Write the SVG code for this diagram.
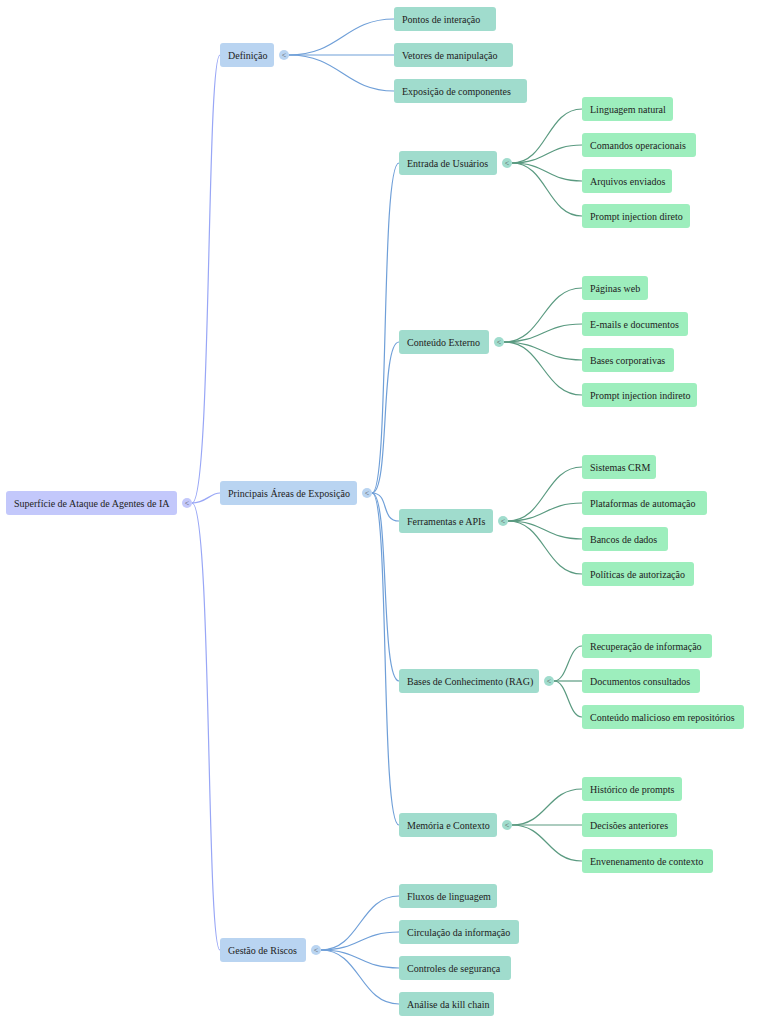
<svg xmlns="http://www.w3.org/2000/svg" width="765" height="1024" viewBox="0 0 765 1024" font-family="'Liberation Serif', 'DejaVu Serif', serif">
<style>
text{font-family:'Liberation Serif','DejaVu Serif',serif;font-size:10px;fill:#222;dominant-baseline:central}
.r{fill:#c3c8fb}.a{fill:#b9d4f1}.b{fill:#a0dccd}.c{fill:#9deebd}
.t text{font-size:8px;fill:#555;text-anchor:middle}
#links path{fill:none;stroke-width:1.2}
.lr{stroke:#98a6f6}.la{stroke:#6f9fd8}.lb{stroke:#5a9a80}
</style>
<rect width="765" height="1024" fill="#fff"/>
<g id="links">
<path class="lr" d="M192 503C212 503 206 55 220 55"/>
<path class="lr" d="M192 503C206 503 210 493 220 493"/>
<path class="lr" d="M192 503C212 503 206 950 220 950"/>
<path class="la" d="M289 55C340 55 345 19 394 19"/>
<path class="la" d="M289 55H394"/>
<path class="la" d="M289 55C340 55 345 91 394 91"/>
<path class="la" d="M372 493C390 493 380 163 399 163"/>
<path class="la" d="M372 493C390 493 380 342 399 342"/>
<path class="la" d="M372 493C390 493 380 521 399 521"/>
<path class="la" d="M372 493C390 493 380 681 399 681"/>
<path class="la" d="M372 493C390 493 380 825 399 825"/>
<path class="la" d="M321 950C360 950 360 896 399 896"/>
<path class="la" d="M321 950C360 950 360 932 399 932"/>
<path class="la" d="M321 950C360 950 360 968 399 968"/>
<path class="la" d="M321 950C360 950 360 1004 399 1004"/>
<path class="lb" d="M512 163C547 163 547 109 582 109"/>
<path class="lb" d="M512 163C547 163 547 145 582 145"/>
<path class="lb" d="M512 163C547 163 547 181 582 181"/>
<path class="lb" d="M512 163C547 163 547 216 582 216"/>
<path class="lb" d="M504 342C543 342 543 288 582 288"/>
<path class="lb" d="M504 342C543 342 543 324 582 324"/>
<path class="lb" d="M504 342C543 342 543 360 582 360"/>
<path class="lb" d="M504 342C543 342 543 395 582 395"/>
<path class="lb" d="M508 521C545 521 545 467 582 467"/>
<path class="lb" d="M508 521C545 521 545 503 582 503"/>
<path class="lb" d="M508 521C545 521 545 539 582 539"/>
<path class="lb" d="M508 521C545 521 545 574 582 574"/>
<path class="lb" d="M554 681C568 681 568 646 582 646"/>
<path class="lb" d="M554 681H582"/>
<path class="lb" d="M554 681C568 681 568 717 582 717"/>
<path class="lb" d="M512 825C547 825 547 789 582 789"/>
<path class="lb" d="M512 825H582"/>
<path class="lb" d="M512 825C547 825 547 861 582 861"/>
</g>
<g id="n0"><rect class="r" x="6" y="491" width="171" height="24" rx="3"/><text x="14" y="503">Superfície de Ataque de Agentes de IA</text><g class="t"><circle class="r" cx="187" cy="503" r="5"/><text x="187" y="503">&lt;</text></g></g>
<g id="n1"><rect class="a" x="220" y="43" width="54" height="24" rx="3"/><text x="228" y="55">Definição</text><g class="t"><circle class="a" cx="284" cy="55" r="5"/><text x="284" y="55">&lt;</text></g></g>
<g id="n2"><rect class="a" x="220" y="481" width="137" height="24" rx="3"/><text x="228" y="493">Principais Áreas de Exposição</text><g class="t"><circle class="a" cx="367" cy="493" r="5"/><text x="367" y="493">&lt;</text></g></g>
<g id="n3"><rect class="a" x="220" y="938" width="86" height="24" rx="3"/><text x="228" y="950">Gestão de Riscos</text><g class="t"><circle class="a" cx="316" cy="950" r="5"/><text x="316" y="950">&lt;</text></g></g>
<g id="n4"><rect class="b" x="394" y="7" width="102" height="24" rx="3"/><text x="402" y="19">Pontos de interação</text></g>
<g id="n5"><rect class="b" x="394" y="43" width="119" height="24" rx="3"/><text x="402" y="55">Vetores de manipulação</text></g>
<g id="n6"><rect class="b" x="394" y="79" width="133" height="24" rx="3"/><text x="402" y="91">Exposição de componentes</text></g>
<g id="n7"><rect class="b" x="399" y="151" width="98" height="24" rx="3"/><text x="407" y="163">Entrada de Usuários</text><g class="t"><circle class="b" cx="507" cy="163" r="5"/><text x="507" y="163">&lt;</text></g></g>
<g id="n8"><rect class="b" x="399" y="330" width="90" height="24" rx="3"/><text x="407" y="342">Conteúdo Externo</text><g class="t"><circle class="b" cx="499" cy="342" r="5"/><text x="499" y="342">&lt;</text></g></g>
<g id="n9"><rect class="b" x="399" y="509" width="94" height="24" rx="3"/><text x="407" y="521">Ferramentas e APIs</text><g class="t"><circle class="b" cx="503" cy="521" r="5"/><text x="503" y="521">&lt;</text></g></g>
<g id="n10"><rect class="b" x="399" y="669" width="140" height="24" rx="3"/><text x="407" y="681">Bases de Conhecimento (RAG)</text><g class="t"><circle class="b" cx="549" cy="681" r="5"/><text x="549" y="681">&lt;</text></g></g>
<g id="n11"><rect class="b" x="399" y="813" width="98" height="24" rx="3"/><text x="407" y="825">Memória e Contexto</text><g class="t"><circle class="b" cx="507" cy="825" r="5"/><text x="507" y="825">&lt;</text></g></g>
<g id="n12"><rect class="b" x="399" y="884" width="98" height="24" rx="3"/><text x="407" y="896">Fluxos de linguagem</text></g>
<g id="n13"><rect class="b" x="399" y="920" width="120" height="24" rx="3"/><text x="407" y="932">Circulação da informação</text></g>
<g id="n14"><rect class="b" x="399" y="956" width="112" height="24" rx="3"/><text x="407" y="968">Controles de segurança</text></g>
<g id="n15"><rect class="b" x="399" y="992" width="95" height="24" rx="3"/><text x="407" y="1004">Análise da kill chain</text></g>
<g id="n16"><rect class="c" x="582" y="97" width="91" height="24" rx="3"/><text x="590" y="109">Linguagem natural</text></g>
<g id="n17"><rect class="c" x="582" y="133" width="114" height="24" rx="3"/><text x="590" y="145">Comandos operacionais</text></g>
<g id="n18"><rect class="c" x="582" y="169" width="90" height="24" rx="3"/><text x="590" y="181">Arquivos enviados</text></g>
<g id="n19"><rect class="c" x="582" y="204" width="108" height="24" rx="3"/><text x="590" y="216">Prompt injection direto</text></g>
<g id="n20"><rect class="c" x="582" y="276" width="66" height="24" rx="3"/><text x="590" y="288">Páginas web</text></g>
<g id="n21"><rect class="c" x="582" y="312" width="106" height="24" rx="3"/><text x="590" y="324">E-mails e documentos</text></g>
<g id="n22"><rect class="c" x="582" y="348" width="92" height="24" rx="3"/><text x="590" y="360">Bases corporativas</text></g>
<g id="n23"><rect class="c" x="582" y="383" width="115" height="24" rx="3"/><text x="590" y="395">Prompt injection indireto</text></g>
<g id="n24"><rect class="c" x="582" y="455" width="74" height="24" rx="3"/><text x="590" y="467">Sistemas CRM</text></g>
<g id="n25"><rect class="c" x="582" y="491" width="125" height="24" rx="3"/><text x="590" y="503">Plataformas de automação</text></g>
<g id="n26"><rect class="c" x="582" y="527" width="86" height="24" rx="3"/><text x="590" y="539">Bancos de dados</text></g>
<g id="n27"><rect class="c" x="582" y="562" width="112" height="24" rx="3"/><text x="590" y="574">Políticas de autorização</text></g>
<g id="n28"><rect class="c" x="582" y="634" width="130" height="24" rx="3"/><text x="590" y="646">Recuperação de informação</text></g>
<g id="n29"><rect class="c" x="582" y="669" width="118" height="24" rx="3"/><text x="590" y="681">Documentos consultados</text></g>
<g id="n30"><rect class="c" x="582" y="705" width="162" height="24" rx="3"/><text x="590" y="717">Conteúdo malicioso em repositórios</text></g>
<g id="n31"><rect class="c" x="582" y="777" width="100" height="24" rx="3"/><text x="590" y="789">Histórico de prompts</text></g>
<g id="n32"><rect class="c" x="582" y="813" width="95" height="24" rx="3"/><text x="590" y="825">Decisões anteriores</text></g>
<g id="n33"><rect class="c" x="582" y="849" width="131" height="24" rx="3"/><text x="590" y="861">Envenenamento de contexto</text></g>
</svg>
